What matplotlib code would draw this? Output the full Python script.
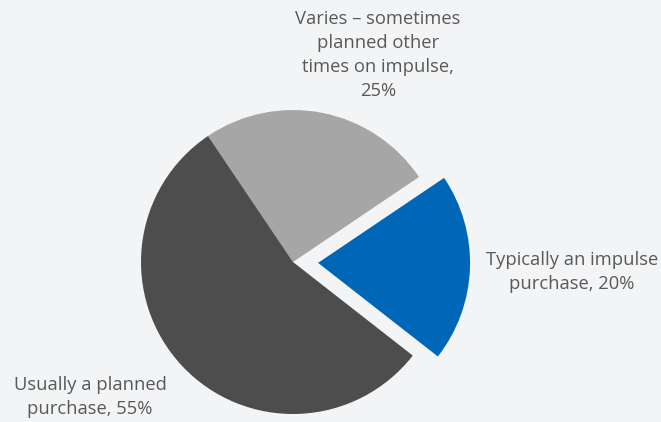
import matplotlib
matplotlib.use("Agg")
import matplotlib.pyplot as plt

labels = ["Typically an impulse\npurchase, 20%",
          "Varies \u2013 sometimes\nplanned other\ntimes on impulse,\n25%",
          "Usually a planned\npurchase, 55%"]
values = [20, 25, 55]
colors = ["#0067B8", "#A6A6A6", "#4D4D4D"]
explode = [0.165, 0, 0]

W, H = 661, 422
bg = "#F3F4F6"
fig = plt.figure(figsize=(W / 100, H / 100), dpi=100, facecolor=bg)

cx, cy, r = 293, 262, 152
ax = fig.add_axes([(cx - r) / W, (H - cy - r) / H, 2 * r / W, 2 * r / H])
ax.set_facecolor(bg)
wedges, _ = ax.pie(values, colors=colors, explode=explode, startangle=-38,
                   counterclock=True, radius=1.0,
                   wedgeprops=dict(linewidth=0))
for w in wedges:
    w.set_clip_on(False)
ax.set_xlim(-1, 1)
ax.set_ylim(-1, 1)
ax.set_aspect("equal")
ax.axis("off")

txt = dict(color="#595959", fontsize=13.2, family="Open Sans",
           ha="center", va="center", linespacing=1.45)
pos = [(572, 272), (378, 55), (90, 397)]
for lab, (px, py) in zip(labels, pos):
    fig.text(px / W, 1 - py / H, lab, **txt)

fig.savefig("out.png", dpi=100, facecolor=bg)
